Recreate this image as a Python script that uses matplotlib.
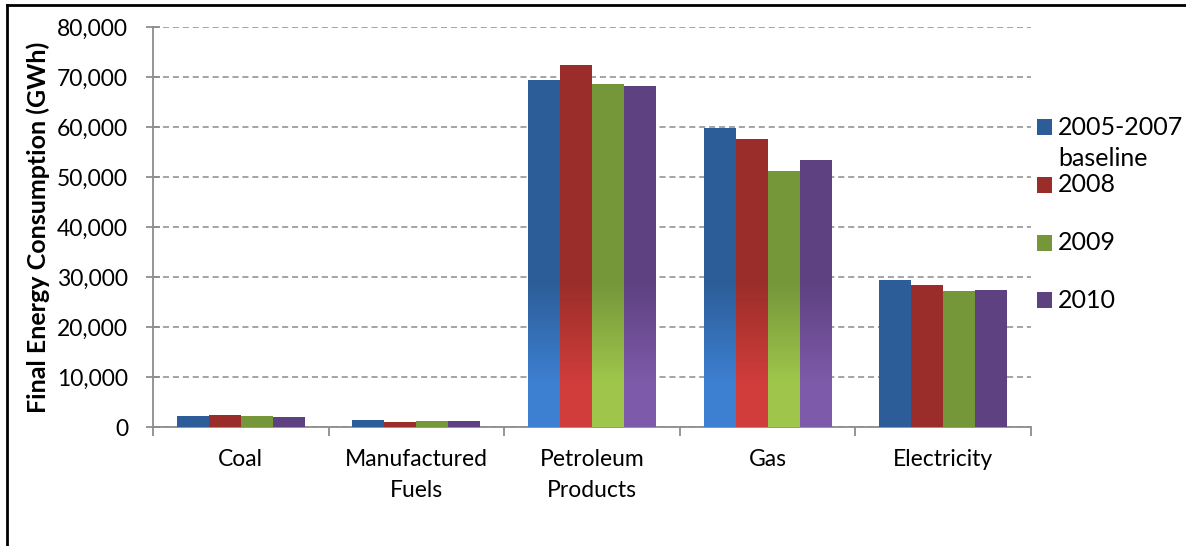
import numpy as np
import matplotlib
matplotlib.use("Agg")
import matplotlib.pyplot as plt
from matplotlib.colors import LinearSegmentedColormap
from matplotlib.patches import Rectangle
from matplotlib.lines import Line2D

categories = ["Coal", "Manufactured\nFuels", "Petroleum\nProducts", "Gas", "Electricity"]
series_names = ["2005-2007\nbaseline", "2008", "2009", "2010"]
baseline = [2200, 1400, 69400, 59800, 29400]
y2008 = [2450, 1000, 72400, 57600, 28400]
y2009 = [2200, 1200, 68600, 51200, 27200]
y2010 = [2000, 1200, 68200, 53400, 27400]
yticks = [0, 10000, 20000, 30000, 40000, 50000, 60000, 70000, 80000]
ytick_labels = ["0", "10,000", "20,000", "30,000", "40,000", "50,000", "60,000", "70,000", "80,000"]

dark_colors = ["#2c5d98", "#9a2d2a", "#76963a", "#5d4180"]
light_colors = ["#3d7fd0", "#d03d3a", "#9fc64b", "#7e5aaa"]

plt.rcParams['font.family'] = ['Lato', 'DejaVu Sans']
FS = 16.5

fig = plt.figure(figsize=(11.86, 5.46), dpi=100)
W, H = 1186, 546
ax = fig.add_axes([153 / W, 1 - 427 / H, (1031 - 153) / W, (427 - 27) / H])

series = [baseline, y2008, y2009, y2010]
n = len(categories)
x = np.arange(n)
bw = 0.182

for i, vals in enumerate(series):
    offs = (i - 1.5) * bw
    bars = ax.bar(x + offs, vals, width=bw, color=dark_colors[i], zorder=3, linewidth=0)
    cmap = LinearSegmentedColormap.from_list("g%d" % i, [light_colors[i], dark_colors[i]])
    for b, v in zip(bars, vals):
        if v > 40000:
            x0 = b.get_x()
            grad = np.linspace(0, 1, 256).reshape(-1, 1)
            im = ax.imshow(grad, extent=[x0, x0 + bw, 9000, 29000], origin="lower",
                           cmap=cmap, aspect="auto", zorder=3.5, interpolation="bilinear")
            im.set_clip_path(b)
            im2 = ax.imshow(np.zeros((2, 1)), extent=[x0, x0 + bw, 0, 9000], origin="lower",
                            cmap=cmap, vmin=0, vmax=1, aspect="auto", zorder=3.5)
            im2.set_clip_path(b)
ax.set_xlim(-0.5, n - 0.5)
ax.set_ylim(0, 80000)

ax.set_yticks(yticks)
ax.set_yticklabels(ytick_labels, fontsize=FS)
ax.yaxis.grid(True, linestyle=(0, (4, 2.5)), color="#8c8c8c", linewidth=1.1, zorder=1)
ax.set_axisbelow(True)
for s in ["top", "right"]:
    ax.spines[s].set_visible(False)
for s in ["left", "bottom"]:
    ax.spines[s].set_color("#8c8c8c")
    ax.spines[s].set_linewidth(1.3)
ax.tick_params(axis="y", direction="inout", length=10, color="#8c8c8c", width=1.3, pad=13)

ax.set_xticks(np.arange(n + 1) - 0.5)
ax.set_xticklabels([""] * (n + 1))
ax.tick_params(axis="x", direction="out", length=6.5, color="#8c8c8c", width=1.3)
for xi, c in zip(x, categories):
    ax.text(xi, -4300, c, ha="center", va="top", fontsize=FS, linespacing=1.6)

fig.text(38 / W, 1 - 227 / H, "Final Energy Consumption (GWh)", rotation=90,
         ha="center", va="center", fontsize=18, fontweight="bold")

# legend (manual, Excel-like layout)
leg_y = [127, 185, 243, 300]
for c, name, yy in zip(dark_colors, series_names, leg_y):
    fig.add_artist(Rectangle((1037 / W, 1 - (yy + 8) / H), 15 / W, 16 / H,
                             facecolor=c, edgecolor="none", transform=fig.transFigure))
    for k, line in enumerate(name.split("\n")):
        fig.text(1058 / W, 1 - (yy + 31 * k) / H, line, ha="left", va="center", fontsize=18)

# frame lines (top and left)
fig.add_artist(Line2D([7 / W, 1], [1 - 5 / H, 1 - 5 / H], color="black", linewidth=2))
fig.add_artist(Line2D([7 / W, 7 / W], [0, 1 - 5 / H], color="black", linewidth=2))

fig.savefig("out.png", dpi=100)
